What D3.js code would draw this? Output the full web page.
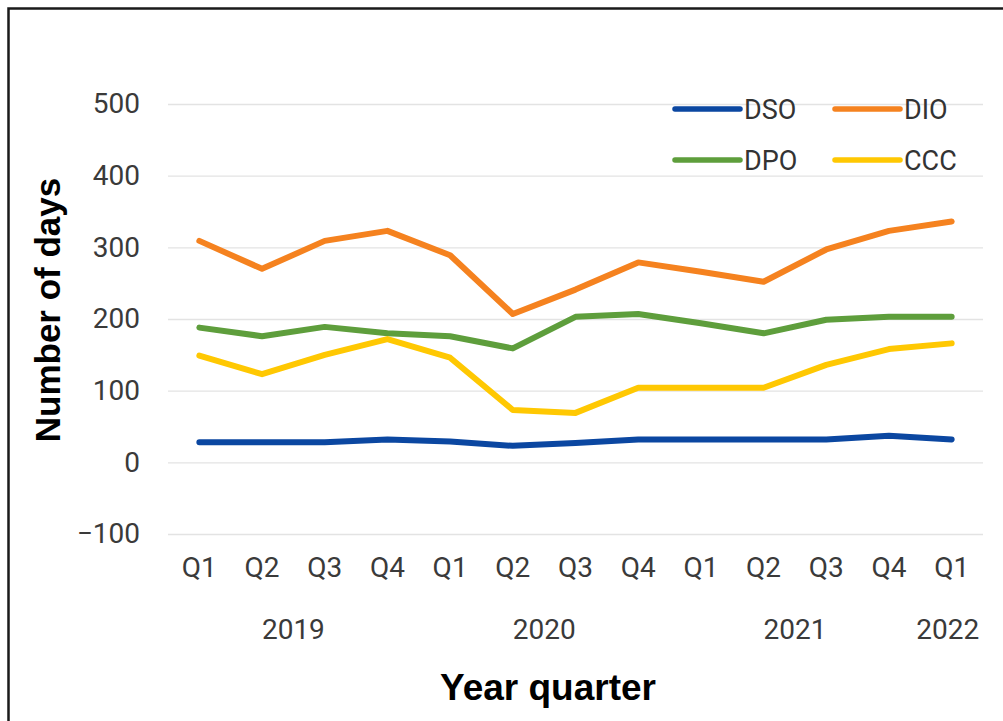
<!DOCTYPE html>
<html>
<head>
<meta charset="utf-8">
<script src="https://cdn.jsdelivr.net/npm/d3@7"></script>
<style>
  html, body { margin: 0; padding: 0; background: #fff; }
  svg { display: block; }
</style>
</head>
<body>
<svg id="chart" width="1003" height="721"></svg>
<script>
// Quarter labels along the x axis, and the year each block of quarters belongs to
const quarters = ["Q1", "Q2", "Q3", "Q4", "Q1", "Q2", "Q3", "Q4", "Q1", "Q2", "Q3", "Q4", "Q1"];
const yearLabels = ["2019", "2020", "2021", "2022"];
const yearStart = [0, 4, 8, 12];   // first quarter index of each year
const yearEnd = [3, 7, 11, 12];    // last quarter index of each year

// Working-capital cycle components, in days
const dso = [28, 28, 28, 32, 29, 23, 27, 32, 32, 32, 32, 37, 32];
const dio = [309, 270, 309, 323, 289, 207, 241, 279, 266, 252, 297, 323, 336];
const dpo = [188, 176, 189, 180, 176, 159, 203, 207, 194, 180, 199, 203, 203];
const ccc = [149, 123, 150, 172, 146, 73, 69, 104, 104, 104, 136, 158, 166];

const yTicks = [-100, 0, 100, 200, 300, 400, 500];

const seriesNames = ["DSO", "DIO", "DPO", "CCC"];
const seriesValues = [dso, dio, dpo, ccc];
const seriesColors = ["#0b47a1", "#f5821f", "#5e9e3c", "#ffc802"];

const svg = d3.select("#chart");
const W = 1003, H = 721;
const plot = { left: 168, right: 983, top: 104, bottom: 534 };

// Frame around the figure (top and left edges)
svg.append("path")
  .attr("d", `M8.5,${H} L8.5,8.5 L${W},8.5`)
  .attr("fill", "none")
  .attr("stroke", "#1a1a1a")
  .attr("stroke-width", 2.5);

const idx = d3.range(quarters.length);
const x = d3.scaleBand().domain(idx).range([plot.left, plot.right]).padding(0);
const cx = i => x(i) + x.bandwidth() / 2;
const y = d3.scaleLinear().domain([-100, 500]).range([plot.bottom, plot.top]);

// Horizontal gridlines and value labels
const yAxis = d3.axisLeft(y)
  .tickValues(yTicks)
  .tickSize(-(plot.right - plot.left))
  .tickPadding(28)
  .tickFormat(d => d < 0 ? "\u2212" + Math.abs(d) : String(d));

const gy = svg.append("g")
  .attr("transform", `translate(${plot.left},0)`)
  .call(yAxis);
gy.select(".domain").remove();
gy.selectAll(".tick line").attr("stroke", "#e3e3e3").attr("stroke-width", 1.3);
gy.selectAll(".tick text")
  .attr("fill", "#3a3a3a")
  .style("font-family", "Roboto, 'Liberation Sans', sans-serif")
  .style("font-size", "28px");

// Quarter labels
const xAxis = d3.axisBottom(x).tickSize(0).tickPadding(0).tickFormat(i => quarters[i]);
const gx = svg.append("g")
  .attr("transform", `translate(0,557)`)
  .call(xAxis);
gx.select(".domain").remove();
gx.selectAll(".tick text")
  .attr("dy", "0.71em")
  .attr("fill", "#3a3a3a")
  .style("font-family", "Roboto, 'Liberation Sans', sans-serif")
  .style("font-size", "28px");

// Year labels, centred under their quarters
svg.append("g").selectAll("text")
  .data(yearLabels)
  .join("text")
  .attr("x", (d, i) => (cx(yearStart[i]) + cx(yearEnd[i])) / 2 - (i === 3 ? 4 : 0))
  .attr("y", 639)
  .attr("text-anchor", "middle")
  .attr("fill", "#3a3a3a")
  .style("font-family", "Roboto, 'Liberation Sans', sans-serif")
  .style("font-size", "28px")
  .text(d => d);

// Series lines
const line = d3.line().x((d, i) => cx(i)).y(d => y(d));
svg.append("g").selectAll("path")
  .data(seriesValues)
  .join("path")
  .attr("d", d => line(d))
  .attr("fill", "none")
  .attr("stroke", (d, i) => seriesColors[i])
  .attr("stroke-width", 6)
  .attr("stroke-linejoin", "round")
  .attr("stroke-linecap", "round");

// Legend: two rows of two entries
const legendPos = [[675, 109], [835, 109], [675, 160], [835, 160]];
const lg = svg.append("g").selectAll("g")
  .data(seriesNames)
  .join("g")
  .attr("transform", (d, i) => `translate(${legendPos[i][0]},${legendPos[i][1]})`);
lg.append("line")
  .attr("x1", 0).attr("x2", 65)
  .attr("stroke", (d, i) => seriesColors[i])
  .attr("stroke-width", 5.5)
  .attr("stroke-linecap", "round");
lg.append("text")
  .attr("x", 69)
  .attr("dy", "0.36em")
  .attr("fill", "#333")
  .style("font-family", "Roboto, 'Liberation Sans', sans-serif")
  .style("font-size", "27px")
  .text(d => d);

// Axis titles
svg.append("text")
  .attr("transform", "translate(60,310) rotate(-90)")
  .attr("text-anchor", "middle")
  .attr("fill", "#000")
  .style("font-family", "'Liberation Sans', Arial, sans-serif")
  .style("font-weight", "bold")
  .style("font-size", "35px")
  .text("Number of days");

svg.append("text")
  .attr("x", 548)
  .attr("y", 700)
  .attr("text-anchor", "middle")
  .attr("fill", "#000")
  .style("font-family", "'Liberation Sans', Arial, sans-serif")
  .style("font-weight", "bold")
  .style("font-size", "37px")
  .text("Year quarter");
</script>
</body>
</html>
